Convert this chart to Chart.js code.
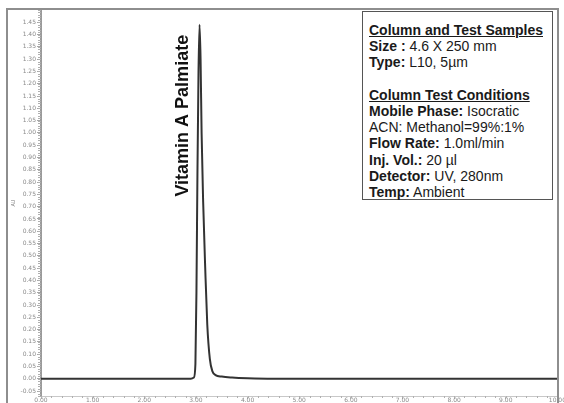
<!DOCTYPE html>
<html>
<head>
<meta charset="utf-8">
<script src="https://cdn.jsdelivr.net/npm/chart.js@4.4.1/dist/chart.umd.min.js"></script>
<style>
html,body{margin:0;padding:0;background:#fff;}
#wrap{position:relative;width:564px;height:403px;overflow:hidden;}
#frame{position:absolute;left:6px;top:8px;width:553px;height:400px;border:2px solid #8e8e8e;border-bottom:none;box-sizing:border-box;pointer-events:none;}
#info{position:absolute;left:362px;top:11px;width:191px;height:189px;border:1px solid #555;background:#fff;
  font-family:"Liberation Sans",Arial,sans-serif;font-size:14px;line-height:16.2px;color:#1a1a1a;
  padding:10px 0 0 6px;box-sizing:border-box;white-space:nowrap;}
#info b{font-weight:bold;}
#info .hd{font-weight:bold;text-decoration:underline;}
</style>
</head>
<body>
<div id="wrap">
  <canvas id="myChart" width="564" height="403"></canvas>
  <div id="frame"></div>
  <div id="info">
    <div class="hd">Column and Test Samples</div>
    <div><b>Size :</b> 4.6 X 250 mm</div>
    <div><b>Type:</b> L10, 5µm</div>
    <div>&nbsp;</div>
    <div class="hd">Column Test Conditions</div>
    <div><b>Mobile Phase:</b> Isocratic</div>
    <div>ACN: Methanol=99%:1%</div>
    <div><b>Flow Rate:</b> 1.0ml/min</div>
    <div><b>Inj. Vol.:</b> 20 µl</div>
    <div><b>Detector:</b> UV, 280nm</div>
    <div><b>Temp:</b> Ambient</div>
  </div>
</div>
<script>
// chromatogram trace (minutes, AU)
const times = [0, 2.90, 2.96, 2.99, 3.01, 3.03, 3.05, 3.07, 3.09, 3.11, 3.14, 3.18, 3.22, 3.27, 3.32, 3.38, 3.50, 3.70, 4.00, 4.50, 10]
const absorbance = [0, 0, 0.005, 0.06, 0.35, 0.85, 1.25, 1.44, 1.30, 1.00, 0.72, 0.45, 0.22, 0.08, 0.03, 0.015, 0.009, 0.005, 0.002, 0, 0]

const xTicks = [0, 1, 2, 3, 4, 5, 6, 7, 8, 9, 10]
const yTicks = [-0.05, 0, 0.05, 0.10, 0.15, 0.20, 0.25, 0.30, 0.35, 0.40, 0.45, 0.50, 0.55, 0.60, 0.65, 0.70,
  0.75, 0.80, 0.85, 0.90, 0.95, 1.00, 1.05, 1.10, 1.15, 1.20, 1.25, 1.30, 1.35, 1.40, 1.45]

const peakName = "Vitamin A Palmiate"
const peakTime = 3.07

let points = []
for (i = 0; i < times.length; i++) {
  points.push({x: times[i], y: absorbance[i]})
}

// small minor ticks along both axes + the peak label
const extras = {
  id: "extras",
  afterDatasetsDraw(chart) {
    const ctx = chart.ctx
    const xs = chart.scales.x
    const ys = chart.scales.y
    const area = chart.chartArea
    ctx.save()
    ctx.strokeStyle = "#b0b0b0"
    ctx.lineWidth = 1
    ctx.beginPath()
    for (let v = -7; v <= 150; v++) {
      let py = Math.round(ys.getPixelForValue(v / 100)) + 0.5
      ctx.moveTo(area.left - 3, py)
      ctx.lineTo(area.left, py)
    }
    for (let v = 0; v <= 50; v++) {
      let px = Math.round(xs.getPixelForValue(v / 5)) + 0.5
      ctx.moveTo(px, area.bottom)
      ctx.lineTo(px, area.bottom + 2)
    }
    ctx.stroke()

    // peak name, rotated, beside the peak
    ctx.translate(xs.getPixelForValue(peakTime) - 17, ys.getPixelForValue(1.07))
    ctx.rotate(-Math.PI / 2)
    ctx.fillStyle = "#111"
    ctx.font = "bold 18px 'Liberation Sans', Arial, sans-serif"
    ctx.textAlign = "center"
    ctx.textBaseline = "middle"
    ctx.fillText(peakName, 0, 0)
    ctx.restore()
  }
}

const ctx = document.getElementById("myChart").getContext("2d")
const myChart = new Chart(ctx, {
  type: "line",
  data: {
    datasets: [{
      data: points,
      borderColor: "#333",
      borderWidth: 2,
      pointRadius: 0,
      cubicInterpolationMode: "monotone",
      fill: false
    }]
  },
  options: {
    responsive: false,
    animation: false,
    layout: {padding: {left: 11, top: 10, right: 4, bottom: 0}},
    plugins: {legend: {display: false}, tooltip: {enabled: false}},
    scales: {
      x: {
        type: "linear",
        min: 0,
        max: 10,
        afterBuildTicks: s => { s.ticks = xTicks.map(v => ({value: v})) },
        afterFit: s => { s.height = 7 },
        ticks: {
          color: "#8a8a8a",
          font: {size: 6, family: "'DejaVu Sans', sans-serif"},
          padding: -2,
          maxRotation: 0,
          callback: v => Number(v).toFixed(2)
        },
        grid: {drawOnChartArea: false, tickLength: 3, color: "#b8b8b8"},
        border: {color: "#c8c8c8", width: 1, dash: [1, 2]}
      },
      y: {
        min: -0.07,
        max: 1.50,
        afterBuildTicks: s => { s.ticks = yTicks.map(v => ({value: v})) },
        afterFit: s => { s.width = 30 },
        title: {display: true, text: "AU", color: "#777", font: {size: 5}, padding: 0},
        ticks: {
          color: "#8a8a8a",
          font: {size: 6, family: "'DejaVu Sans', sans-serif"},
          padding: 1,
          callback: v => Number(v).toFixed(2)
        },
        grid: {drawOnChartArea: false, tickLength: 4, color: "#a8a8a8"},
        border: {color: "#9a9a9a", width: 2}
      }
    }
  },
  plugins: [extras]
})
</script>
</body>
</html>
